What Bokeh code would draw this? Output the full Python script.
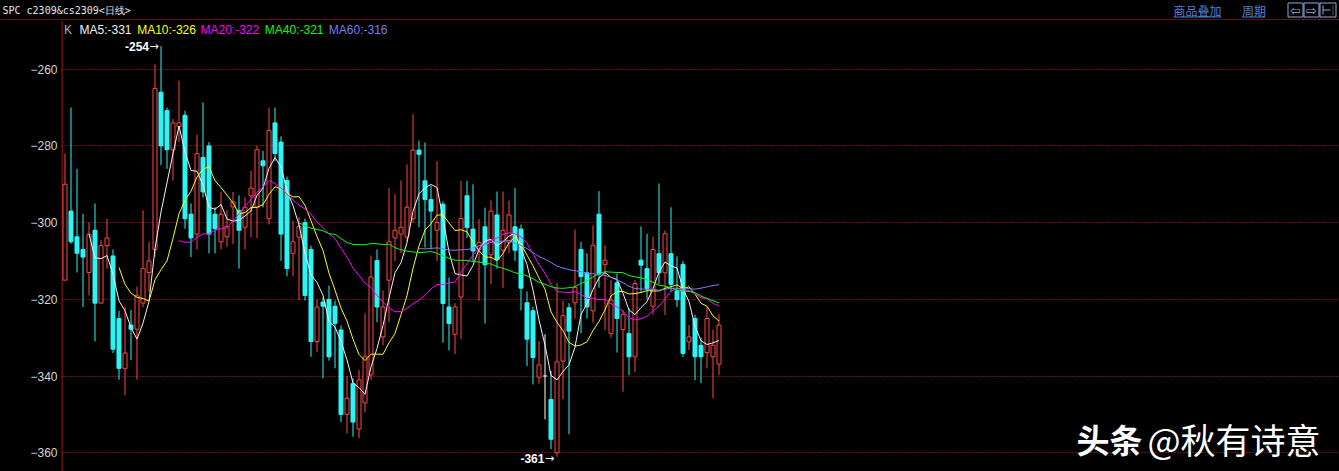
import numpy as np
import pandas as pd
from bokeh.plotting import figure
from bokeh.layouts import column
from bokeh.models import Range1d, FixedTicker, ColumnDataSource
from bokeh.core.properties import value
from bokeh.embed import file_html
from bokeh.resources import INLINE

# ---------------- data ----------------
opens = [-315, -297, -303.7, -307, -313, -302, -321, -306, -308.7, -325,
         -338, -326.7, -327.8, -321, -313, -307, -266, -270.8, -281, -275,
         -272, -297.8, -303, -283, -280, -297.8, -305, -303.7, -295.9, -296.8,
         -301.2, -293, -296, -283.9, -299, -274, -279, -289, -308, -303.8,
         -300, -307, -331, -320.7, -320, -321.8, -328, -350, -342, -353.8,
         -347, -339.7, -309.9, -329.8, -315, -304, -303, -303.8, -299, -281.1,
         -289.1, -294, -302, -295.2, -322, -329.1, -319.4, -293, -301.7, -307,
         -301.1, -308.4, -298, -307.2, -305.2, -301.1, -301.7, -320.9, -323, -340.3,
         -340, -346.1, -360, -336.1, -322.2, -320.9, -307, -313.1, -323, -297.8,
         -310.9, -328.9, -315.7, -327.9, -328.9, -335, -309.8, -312, -321.8, -308.1,
         -313.1, -308.1, -317.8, -310.9, -331.1, -325, -332, -333.9, -335, -336.9]
highs = [-282, -270, -286, -297.7, -300, -295, -304.6, -299, -307, -323,
         -322, -322.8, -316.7, -296.8, -305, -258.7, -254, -270, -273, -263,
         -270.8, -295, -277, -268.7, -279, -296, -292, -296.8, -292, -292.9,
         -293.4, -286.5, -280, -281.3, -270, -270, -277.5, -288, -299.5, -298.6,
         -299, -306, -320, -319.5, -316.4, -320.3, -326.8, -340, -340.6, -338.4,
         -323.7, -308.6, -307, -317.7, -291, -292.6, -289, -284.8, -271.8, -278.7,
         -279.1, -290.4, -284, -294.5, -314.3, -321, -289.1, -289.1, -290, -299.1,
         -296.1, -294.2, -291.9, -291.9, -294.2, -291, -300.5, -318, -322, -330.9,
         -329.1, -338.7, -315.7, -320.4, -321, -301.8, -305, -308, -300.7, -291.8,
         -305.9, -315, -313.3, -323, -322.4, -315, -301, -302.9, -303.7, -289.8,
         -302, -296, -308.8, -310, -326.7, -324, -330, -322, -327.9, -323.9]
lows = [-315, -305.5, -313, -322, -319, -331, -321, -312, -334, -341,
        -345, -335.8, -341, -322, -318, -309, -285, -286, -289, -279,
        -301.6, -309, -307, -293.5, -308, -308, -307, -306.3, -305.6, -312,
        -307, -303.8, -304, -296, -300.5, -284, -310, -314, -314, -320.3,
        -320.3, -335, -333.7, -340.6, -336, -338, -352, -355, -355.8, -356.2,
        -349.5, -341, -326, -332, -326, -310, -308, -305, -300, -301.2,
        -306.5, -307, -310, -331.3, -333.3, -334.3, -330.4, -304, -310, -320.4,
        -326.3, -316, -312, -317, -308, -310, -322.9, -337.4, -342.2, -342,
        -351.3, -359.1, -361, -346.1, -355.2, -325, -328.9, -325, -326, -317,
        -328, -330, -333.9, -344.1, -339.8, -339, -318, -320, -324, -316,
        -324.1, -318, -322, -335, -333.2, -341.1, -341.9, -338, -345.8, -339.8]
closes = [-290, -305, -308, -309, -303, -321, -306, -304, -333, -338,
          -334, -327.8, -319.1, -312, -310, -265, -280, -281, -274, -274,
          -299, -304, -282, -292, -303, -301.6, -297.8, -301, -294.6, -302,
          -296, -291, -281, -285.2, -276, -282, -303, -312, -305, -301,
          -319, -331, -322, -321.8, -335, -326.3, -350, -345.8, -352, -341,
          -335, -314.2, -322, -322, -305, -302, -301.2, -296, -281.1, -282.2,
          -294, -297, -300, -321.1, -326.3, -322, -298.9, -301.3, -307.4, -305.2,
          -311, -297, -309.6, -302, -298, -307.2, -317.1, -330.4, -335.2, -337.1,
          -340, -356.5, -336.3, -324.3, -328.3, -316.9, -314.1, -322, -305.9, -313.3,
          -309.8, -320.2, -325, -323.9, -335, -315.9, -311.1, -317.2, -307, -313.1,
          -302.9, -316.1, -320.1, -334.1, -329.8, -335, -335, -325, -332, -326.7]

y_ticks = [-260, -280, -300, -320, -340, -360]
ma_periods = [5, 10, 20, 40, 60]
ma_colors = ["#f2f2f2", "#ffff00", "#ff00ff", "#00ff00", "#7c7cf4"]
legend_texts = ["MA5:-331", "MA10:-326", "MA20:-322", "MA40:-321", "MA60:-316"]
legend_px = [79, 136.7, 200, 264.3, 328.3]
header_title = "SPC c2309&cs2309<日线>"
header_links = ["商品叠加", "周期"]
high_mark = "-254"
low_mark = "-361"
watermark = ["头条", "@秋有诗意"]

# ---------------- layout constants ----------------
W, H = 1339, 471
HDR_H = 20
MAIN_H = H - HDR_H
FRAME_LEFT = 61
PX_PER_BAR = 6.0
FIRST_BAR_PX = 64.5
PX_PER_UNIT = 3.835
Y260_PX = 68.7

RED = "#ff4646"
CYAN = "#2ef4f4"
LINE_RED = "#d41e1e"
GRID_RED = "#dc1c1c"
LINK_BLUE = "#4f7fd6"
BTN_BLUE = "#8eaadb"

x_start = -(FIRST_BAR_PX - FRAME_LEFT) / PX_PER_BAR
x_end = x_start + (W - FRAME_LEFT) / PX_PER_BAR
y_end = -260 + (Y260_PX - HDR_H) / PX_PER_UNIT
y_start = y_end - MAIN_H / PX_PER_UNIT


def dx(px):
    return x_start + (px - FRAME_LEFT) / PX_PER_BAR


def dy(py):
    # py measured from the top of the whole picture
    return y_end - (py - HDR_H) / PX_PER_UNIT


# ---------------- header strip ----------------
hdr = figure(width=W, height=HDR_H, output_backend="svg", toolbar_location=None,
             x_range=Range1d(0, W), y_range=Range1d(HDR_H, 0),
             x_axis_type=None, y_axis_type=None, min_border=0,
             min_border_left=0, min_border_right=0, min_border_top=0, min_border_bottom=0,
             background_fill_color="black", border_fill_color="black",
             outline_line_color=None)
hdr.xgrid.visible = False
hdr.ygrid.visible = False
hdr_left = 0
try:
    hdr.frame_align = False
except Exception:
    hdr_left = FRAME_LEFT
    hdr.x_range = Range1d(FRAME_LEFT, W)

hdr.text(x=[max(2, hdr_left + 2)], y=[9.5], text=[header_title], text_color="#e6e6e6",
         text_font=value("DejaVu Sans Mono"), text_font_size="10px",
         text_baseline="middle", text_align="left")
hdr.text(x=[1173, 1241.5], y=[10, 10], text=header_links, text_color=LINK_BLUE,
         text_font=value("Noto Sans CJK SC"), text_font_size="12px",
         text_baseline="middle", text_align="left")
hdr.segment(x0=[1173, 1241.5], y0=[16.5, 16.5], x1=[1221, 1264.5], y1=[16.5, 16.5],
            line_color=LINK_BLUE, line_width=1)
bl = [1287.5, 1303.5, 1319.5]
br = [1302.5, 1318.5, 1335.5]
hdr.quad(left=bl, right=br, top=[2.5] * 3, bottom=[16.5] * 3,
         fill_color="black", line_color=BTN_BLUE, line_width=1)
hdr.text(x=[1295, 1311], y=[9.5, 9.5], text=["⇦", "⇨"], text_color=BTN_BLUE,
         text_font=value("DejaVu Sans"), text_font_size="13px",
         text_align="center", text_baseline="middle")
hdr.segment(x0=[1322.5, 1322.5], y0=[5, 9.5], x1=[1322.5, 1330], y1=[14, 9.5],
            line_color=BTN_BLUE, line_width=1)
hdr.segment(x0=[1332.5], y0=[5], x1=[1332.5], y1=[14], line_color=BTN_BLUE,
            line_width=1, line_dash="1 1")
hdr.segment(x0=[0], y0=[19.5], x1=[W], y1=[19.5], line_color=LINE_RED, line_width=1)

# ---------------- main chart ----------------
n = len(closes)
df = pd.DataFrame(dict(x=np.arange(n), o=opens, h=highs, l=lows, c=closes))
df["top"] = df[["o", "c"]].max(axis=1)
df["bot"] = df[["o", "c"]].min(axis=1)
HW = 2.0 / PX_PER_BAR
df["left"] = df.x - HW
df["right"] = df.x + HW

up = ColumnDataSource(df[df.c > df.o])
down = ColumnDataSource(df[df.c < df.o])
doji = ColumnDataSource(df[df.c == df.o])

p = figure(width=W, height=MAIN_H, output_backend="svg", toolbar_location=None,
           x_range=Range1d(x_start, x_end), y_range=Range1d(y_start, y_end),
           x_axis_type=None, min_border_left=FRAME_LEFT, min_border_right=0,
           min_border_top=0, min_border_bottom=0,
           background_fill_color="black", border_fill_color="black",
           outline_line_color=None)
try:
    p.frame_align = False
except Exception:
    pass

ax = p.yaxis[0]
ax.ticker = FixedTicker(ticks=y_ticks)
ax.axis_line_color = None
ax.major_tick_line_color = None
ax.minor_tick_line_color = None
ax.major_tick_out = 0
ax.major_tick_in = 0
ax.major_label_standoff = 4
ax.major_label_text_color = "#d4d4d4"
ax.major_label_text_font = "Liberation Sans"
ax.major_label_text_font_size = "12px"

p.ygrid.ticker = FixedTicker(ticks=y_ticks)
p.ygrid.grid_line_color = GRID_RED
p.ygrid.grid_line_dash = "1 2"
p.ygrid.grid_line_width = 1

# left frame line
p.segment(x0=[dx(61.5)], y0=[y_end], x1=[dx(61.5)], y1=[y_start], line_color=LINE_RED, line_width=1)

# candles
p.segment("x", "h", "x", "l", source=down, line_color=CYAN, line_width=1)
p.quad(left="left", right="right", top="top", bottom="bot", source=down,
       fill_color=CYAN, line_color=CYAN, line_width=1)
p.segment("x", "h", "x", "top", source=up, line_color=RED, line_width=1)
p.segment("x", "bot", "x", "l", source=up, line_color=RED, line_width=1)
p.quad(left="left", right="right", top="top", bottom="bot", source=up,
       fill_color="black", line_color=RED, line_width=1)
p.segment("x", "h", "x", "l", source=doji, line_color="white", line_width=1)
p.segment("left", "o", "right", "o", source=doji, line_color="white", line_width=1)

# moving averages
cs = pd.Series(closes)
for per, col in zip(ma_periods, ma_colors):
    p.line(np.arange(n), cs.rolling(per).mean().values, line_color=col, line_width=1)

# legend line
p.text(x=[dx(63.5)], y=[dy(29.5)], text=["K"], text_color="#b4b4b4",
       text_font=value("Liberation Sans"), text_font_size="12px",
       text_baseline="middle", text_align="left")
p.text(x=[dx(v) for v in legend_px], y=[dy(29.5)] * len(legend_texts), text=legend_texts,
       text_color=ma_colors, text_font=value("Liberation Sans"), text_font_size="12px",
       text_baseline="middle", text_align="left")

# high / low marks
hi_i = int(np.argmax(highs))
lo_i = int(np.argmin(lows))
p.text(x=[hi_i - 6.0, lo_i - 6.1], y=[dy(45.5), dy(457.5)], text=[high_mark, low_mark],
       text_color="white", text_font=value("Liberation Sans"), text_font_size="12px",
       text_font_style="bold", text_baseline="middle", text_align="left")
p.text(x=[hi_i - 1.9, lo_i - 2.0], y=[dy(45.5), dy(457.5)], text=["→", "→"],
       text_color="white", text_font=value("DejaVu Sans"), text_font_size="11px",
       text_baseline="middle", text_align="left")

# watermark
p.text(x=[dx(1076)], y=[dy(438)], text=[watermark[0]], text_color="white",
       text_font=value("Noto Sans CJK SC"), text_font_size="33px", text_font_style="bold",
       text_baseline="middle", text_align="left")
p.text(x=[dx(1147)], y=[dy(438)], text=[watermark[1]], text_color="white",
       text_font=value("Noto Sans CJK SC"), text_font_size="35px",
       text_baseline="middle", text_align="left")

layout = column(hdr, p, spacing=0)
html = file_html(layout, INLINE)
html = html.replace("<head>", "<head><style>html,body{margin:0;padding:0;overflow:hidden;background:#000;}</style>", 1)
open("out.html", "w").write(html)
